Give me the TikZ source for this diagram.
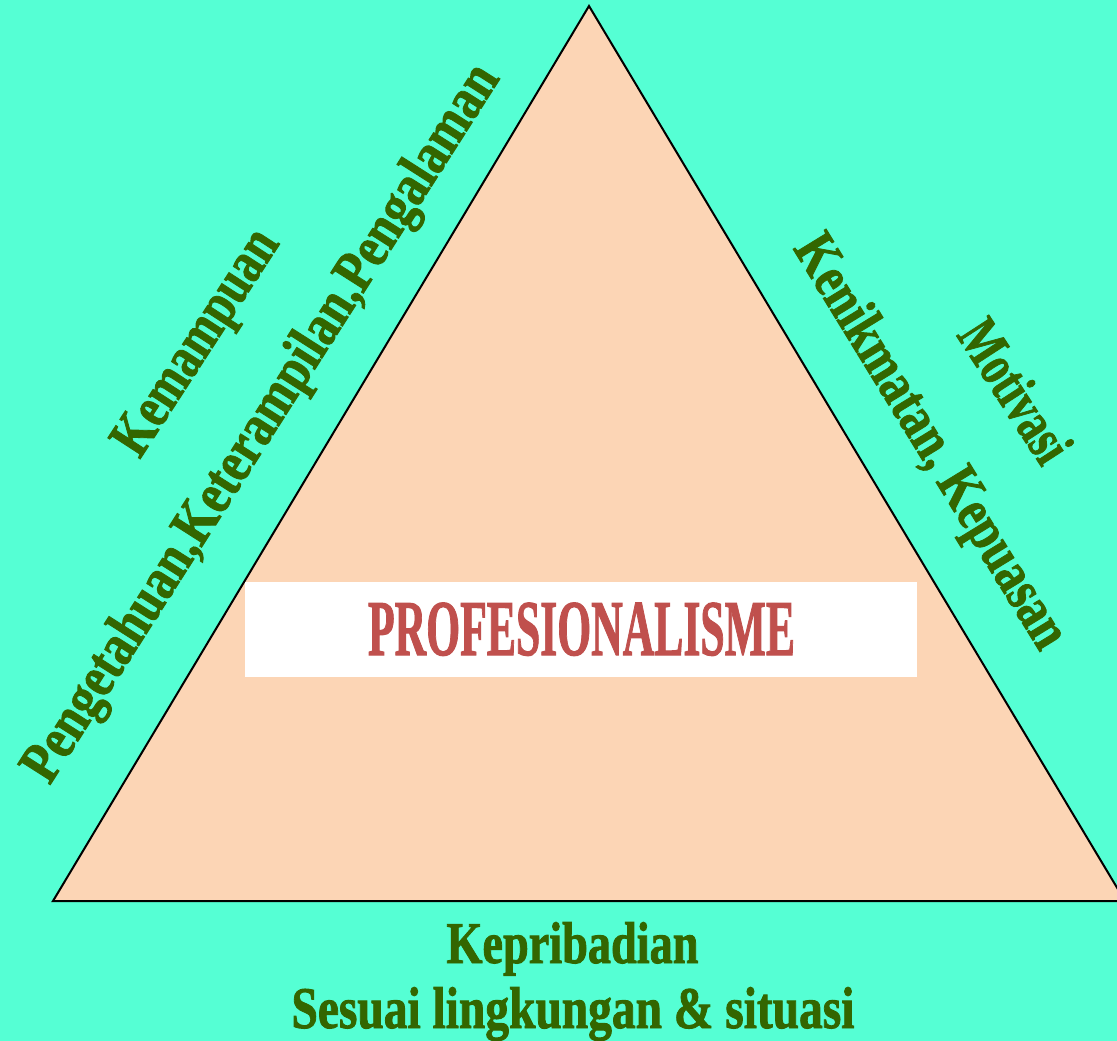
\documentclass[tikz,border=0pt]{standalone}
\usepackage{fontspec}
\setmainfont{Liberation Serif}
\definecolor{bgaqua}{RGB}{85,255,212}
\definecolor{tritan}{RGB}{252,213,181}
\definecolor{dgreen}{RGB}{51,102,0}
\definecolor{dred}{RGB}{192,80,77}
\newcommand{\gfit}[2]{\resizebox{#1}{\height}{\fontsize{59}{60}\selectfont\bfseries\addfontfeature{FakeBold=1.6}#2}}
\newcommand{\rfit}[2]{\resizebox{#1}{\height}{\fontsize{79}{80}\selectfont\bfseries\addfontfeature{FakeBold=1.6}#2}}
\tikzset{
  gtxt/.style={text=dgreen, inner sep=0pt, anchor=base},
  rtxt/.style={text=dred, inner sep=0pt, anchor=base},
  tri/.style={fill=tritan, draw=black, line width=2pt, line join=miter},
  whitebox/.style={fill=white, draw=none, inner sep=0pt}
}
\begin{document}
\begin{tikzpicture}[x=1pt,y=-1pt]
\useasboundingbox (0,0) rectangle (1117,1041);
\clip (0,0) rectangle (1117,1041);
\fill[bgaqua] (0,0) rectangle (1117,1041);
\coordinate (T) at (589,6);
\coordinate (L) at (53,901);
\coordinate (R) at (1125,901);
\draw[tri] (L) -- (T) -- (R) -- cycle;
\node[whitebox, minimum width=672pt, minimum height=95pt] (box) at (581,629.5) {};
\node[rtxt] (prof) at (581.5,655) {\rfit{427pt}{PROFESIONALISME}};
\node[gtxt] (kep) at (572.5,963) {\gfit{252pt}{Kepribadian}};
\node[gtxt] (ses) at (573,1028) {\gfit{563pt}{Sesuai lingkungan \& situasi}};
\node[gtxt, rotate=57] (kem) at (210,351.5) {\gfit{258pt}{Kemampuan}};
\node[gtxt, rotate=57.5] (peng) at (275,432) {\gfit{839pt}{Pengetahuan,Keterampilan,Pengalaman}};
\node[gtxt, rotate=-58.5] (kenik) at (916.5,450.5) {\gfit{474pt}{Kenikmatan, Kepuasan}};
\node[gtxt, rotate=-57] (mot) at (999,401.5) {\gfit{158pt}{Motivasi}};
\end{tikzpicture}
\end{document}
